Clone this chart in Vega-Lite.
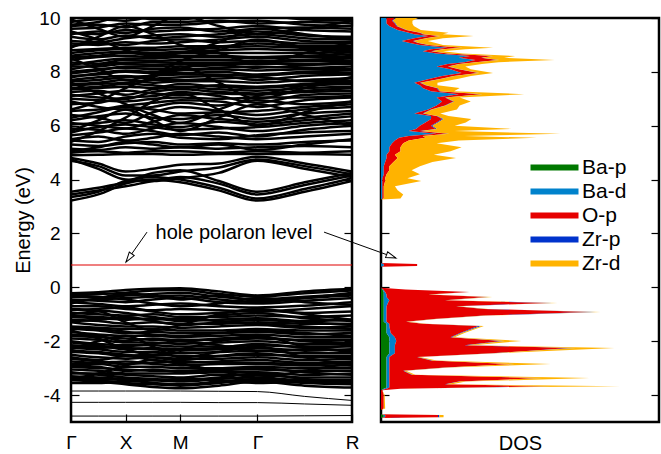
{
 "$schema": "https://vega.github.io/schema/vega-lite/v6.json",
 "padding": {"left": 12, "top": 7, "right": 0, "bottom": 0},
 "bounds": "flush",
 "spacing": 29,
 "config": {
  "font": "Liberation Sans",
  "view": {"stroke": "black", "strokeWidth": 2.5},
  "axis": {"domain": false, "grid": false, "tickColor": "black", "tickWidth": 1.2, "labelColor": "black", "titleColor": "black", "labelFont": "Liberation Sans", "titleFont": "Liberation Sans", "titleFontWeight": "normal", "labelFlush": false, "labelOverlap": false},
  "legend": {"labelFont": "Liberation Sans"}
 },
 "datasets": {
  "kpts": [
   {"kp": "G", "k": 0}, {"kp": "GX", "k": 0.5}, {"kp": "X", "k": 1}, {"kp": "XM", "k": 1.5}, {"kp": "M", "k": 2},
   {"kp": "MG", "k": 2.707}, {"kp": "G2", "k": 3.414}, {"kp": "GR", "k": 4.28}, {"kp": "R", "k": 5.146}
  ],
  "bands": [
   {"b": "v1", "G": -0.22, "GX": -0.18, "X": -0.10, "XM": -0.05, "M": -0.03, "MG": -0.15, "G2": -0.30, "GR": -0.15, "R": -0.05},
   {"b": "v2", "G": -0.28, "GX": -0.25, "X": -0.20, "XM": -0.12, "M": -0.10, "MG": -0.25, "G2": -0.35, "GR": -0.22, "R": -0.12},
   {"b": "v3", "G": -0.35, "GX": -0.38, "X": -0.30, "XM": -0.25, "M": -0.20, "MG": -0.35, "G2": -0.45, "GR": -0.35, "R": -0.25},
   {"b": "v4", "G": -0.45, "GX": -0.50, "X": -0.55, "XM": -0.45, "M": -0.40, "MG": -0.55, "G2": -0.60, "GR": -0.50, "R": -0.40},
   {"b": "v5", "G": -0.55, "GX": -0.62, "X": -0.70, "XM": -0.65, "M": -0.60, "MG": -0.70, "G2": -0.75, "GR": -0.68, "R": -0.55},
   {"b": "v6", "G": -0.70, "GX": -0.70, "X": -0.80, "XM": -0.85, "M": -0.80, "MG": -0.85, "G2": -0.90, "GR": -0.80, "R": -0.70},
   {"b": "v7", "G": -0.85, "GX": -0.80, "X": -0.75, "XM": -0.90, "M": -1.00, "MG": -0.95, "G2": -0.85, "GR": -0.95, "R": -0.90},
   {"b": "v8", "G": -0.95, "GX": -1.00, "X": -1.05, "XM": -1.00, "M": -1.10, "MG": -1.10, "G2": -1.05, "GR": -1.10, "R": -1.05},
   {"b": "v9", "G": -1.10, "GX": -1.15, "X": -1.20, "XM": -1.15, "M": -1.25, "MG": -1.20, "G2": -1.15, "GR": -1.25, "R": -1.20},
   {"b": "v10", "G": -1.20, "GX": -1.25, "X": -1.35, "XM": -1.30, "M": -1.35, "MG": -1.35, "G2": -1.30, "GR": -1.35, "R": -1.35},
   {"b": "v11", "G": -1.30, "GX": -1.40, "X": -1.45, "XM": -1.45, "M": -1.50, "MG": -1.45, "G2": -1.40, "GR": -1.50, "R": -1.45},
   {"b": "v12", "G": -1.45, "GX": -1.50, "X": -1.55, "XM": -1.55, "M": -1.60, "MG": -1.60, "G2": -1.55, "GR": -1.60, "R": -1.60},
   {"b": "v13", "G": -1.55, "GX": -1.60, "X": -1.70, "XM": -1.65, "M": -1.70, "MG": -1.70, "G2": -1.65, "GR": -1.75, "R": -1.70},
   {"b": "v14", "G": -1.65, "GX": -1.75, "X": -1.80, "XM": -1.80, "M": -1.85, "MG": -1.80, "G2": -1.75, "GR": -1.85, "R": -1.85},
   {"b": "v15", "G": -1.80, "GX": -1.85, "X": -1.90, "XM": -1.95, "M": -1.95, "MG": -1.95, "G2": -1.90, "GR": -1.95, "R": -1.95},
   {"b": "v16", "G": -1.90, "GX": -1.95, "X": -2.05, "XM": -2.05, "M": -2.10, "MG": -2.05, "G2": -2.00, "GR": -2.10, "R": -2.10},
   {"b": "v17", "G": -2.00, "GX": -2.10, "X": -2.15, "XM": -2.15, "M": -2.20, "MG": -2.20, "G2": -2.15, "GR": -2.20, "R": -2.20},
   {"b": "v18", "G": -2.15, "GX": -2.20, "X": -2.25, "XM": -2.30, "M": -2.35, "MG": -2.30, "G2": -2.25, "GR": -2.35, "R": -2.30},
   {"b": "v19", "G": -2.25, "GX": -2.30, "X": -2.40, "XM": -2.40, "M": -2.45, "MG": -2.40, "G2": -2.35, "GR": -2.45, "R": -2.45},
   {"b": "v20", "G": -2.40, "GX": -2.45, "X": -2.55, "XM": -2.50, "M": -2.55, "MG": -2.55, "G2": -2.50, "GR": -2.55, "R": -2.55},
   {"b": "v21", "G": -2.50, "GX": -2.60, "X": -2.65, "XM": -2.60, "M": -2.65, "MG": -2.65, "G2": -2.60, "GR": -2.70, "R": -2.65},
   {"b": "v22", "G": -2.60, "GX": -2.70, "X": -2.55, "XM": -2.70, "M": -2.80, "MG": -2.75, "G2": -2.70, "GR": -2.80, "R": -2.75},
   {"b": "v23", "G": -2.75, "GX": -2.80, "X": -2.75, "XM": -2.85, "M": -2.90, "MG": -2.85, "G2": -2.85, "GR": -2.90, "R": -2.90},
   {"b": "v24", "G": -2.85, "GX": -2.85, "X": -2.95, "XM": -2.95, "M": -3.00, "MG": -3.00, "G2": -2.95, "GR": -3.00, "R": -3.00},
   {"b": "v25", "G": -2.95, "GX": -3.00, "X": -3.05, "XM": -3.10, "M": -3.10, "MG": -3.05, "G2": -3.05, "GR": -3.10, "R": -3.10},
   {"b": "v26", "G": -3.05, "GX": -3.10, "X": -3.20, "XM": -3.20, "M": -3.20, "MG": -3.15, "G2": -3.15, "GR": -3.25, "R": -3.20},
   {"b": "v27", "G": -3.20, "GX": -3.20, "X": -3.25, "XM": -3.30, "M": -3.35, "MG": -3.25, "G2": -3.25, "GR": -3.35, "R": -3.35},
   {"b": "v28", "G": -3.30, "GX": -3.35, "X": -3.40, "XM": -3.45, "M": -3.50, "MG": -3.40, "G2": -3.35, "GR": -3.45, "R": -3.45},
   {"b": "v29", "G": -3.40, "GX": -3.45, "X": -3.55, "XM": -3.60, "M": -3.65, "MG": -3.55, "G2": -3.45, "GR": -3.55, "R": -3.60},
   {"b": "v30", "G": -3.45, "GX": -3.50, "X": -3.60, "XM": -3.70, "M": -3.75, "MG": -3.65, "G2": -3.50, "GR": -3.65, "R": -3.72},
   {"b": "v31", "G": -0.60, "GX": -0.40, "X": -0.25, "XM": -0.30, "M": -0.45, "MG": -0.30, "G2": -0.50, "GR": -0.40, "R": -0.20},
   {"b": "v32", "G": -1.00, "GX": -0.90, "X": -1.30, "XM": -1.60, "M": -1.40, "MG": -1.00, "G2": -0.80, "GR": -1.00, "R": -1.20},
   {"b": "v33", "G": -2.30, "GX": -2.00, "X": -1.80, "XM": -2.20, "M": -2.60, "MG": -2.40, "G2": -2.20, "GR": -2.60, "R": -2.90},
   {"b": "v34", "G": -3.40, "GX": -3.20, "X": -2.90, "XM": -2.70, "M": -2.85, "MG": -3.10, "G2": -3.35, "GR": -3.10, "R": -2.80},
   {"b": "v35", "G": -1.60, "GX": -1.90, "X": -2.30, "XM": -2.50, "M": -2.30, "MG": -2.00, "G2": -1.80, "GR": -2.20, "R": -2.40},
   {"b": "v36", "G": -0.50, "GX": -0.45, "X": -0.40, "XM": -0.35, "M": -0.30, "MG": -0.45, "G2": -0.55, "GR": -0.40, "R": -0.30},
   {"b": "v37", "G": -0.80, "GX": -0.85, "X": -0.95, "XM": -1.10, "M": -1.20, "MG": -1.05, "G2": -0.95, "GR": -1.15, "R": -1.25},
   {"b": "v38", "G": -1.25, "GX": -1.20, "X": -1.10, "XM": -1.25, "M": -1.40, "MG": -1.30, "G2": -1.20, "GR": -1.30, "R": -1.40},
   {"b": "v39", "G": -1.50, "GX": -1.55, "X": -1.65, "XM": -1.75, "M": -1.80, "MG": -1.70, "G2": -1.60, "GR": -1.70, "R": -1.80},
   {"b": "v40", "G": -1.75, "GX": -1.80, "X": -2.00, "XM": -1.90, "M": -2.00, "MG": -1.90, "G2": -1.85, "GR": -2.00, "R": -2.05},
   {"b": "v41", "G": -2.05, "GX": -2.15, "X": -2.30, "XM": -2.25, "M": -2.30, "MG": -2.25, "G2": -2.10, "GR": -2.25, "R": -2.35},
   {"b": "v42", "G": -2.35, "GX": -2.40, "X": -2.50, "XM": -2.60, "M": -2.70, "MG": -2.55, "G2": -2.45, "GR": -2.60, "R": -2.60},
   {"b": "v43", "G": -2.65, "GX": -2.75, "X": -2.85, "XM": -2.80, "M": -2.75, "MG": -2.80, "G2": -2.80, "GR": -2.85, "R": -2.80},
   {"b": "v44", "G": -2.90, "GX": -2.95, "X": -3.10, "XM": -3.05, "M": -3.15, "MG": -3.10, "G2": -3.00, "GR": -3.15, "R": -3.25},
   {"b": "v45", "G": -3.15, "GX": -3.25, "X": -3.35, "XM": -3.40, "M": -3.45, "MG": -3.35, "G2": -3.20, "GR": -3.40, "R": -3.50},
   {"b": "v46", "G": -3.35, "GX": -3.40, "X": -3.45, "XM": -3.55, "M": -3.60, "MG": -3.50, "G2": -3.40, "GR": -3.50, "R": -3.55},
   {"b": "v47", "G": -0.30, "GX": -0.35, "X": -0.45, "XM": -0.60, "M": -0.70, "MG": -0.60, "G2": -0.40, "GR": -0.55, "R": -0.65},
   {"b": "v48", "G": -1.05, "GX": -1.10, "X": -1.15, "XM": -1.20, "M": -1.15, "MG": -1.25, "G2": -1.35, "GR": -1.45, "R": -1.55},
   {"b": "v49", "G": -2.20, "GX": -2.25, "X": -2.20, "XM": -2.10, "M": -2.00, "MG": -2.15, "G2": -2.35, "GR": -2.30, "R": -2.15},
   {"b": "v50", "G": -3.55, "GX": -3.55, "X": -3.50, "XM": -3.45, "M": -3.40, "MG": -3.45, "G2": -3.55, "GR": -3.50, "R": -3.45},
   {"b": "c1", "G": 3.22, "GX": 3.45, "X": 3.85, "XM": 4.00, "M": 3.90, "MG": 3.60, "G2": 3.22, "GR": 3.55, "R": 3.95},
   {"b": "c2", "G": 3.35, "GX": 3.55, "X": 3.95, "XM": 4.10, "M": 4.00, "MG": 3.70, "G2": 3.30, "GR": 3.65, "R": 4.05},
   {"b": "c3", "G": 3.45, "GX": 3.60, "X": 3.75, "XM": 3.95, "M": 4.10, "MG": 3.85, "G2": 3.45, "GR": 3.80, "R": 4.15},
   {"b": "c4", "G": 3.55, "GX": 3.70, "X": 3.90, "XM": 4.25, "M": 4.35, "MG": 3.95, "G2": 3.55, "GR": 3.90, "R": 4.25},
   {"b": "c5", "G": 4.75, "GX": 4.40, "X": 4.00, "XM": 3.95, "M": 4.05, "MG": 4.25, "G2": 4.70, "GR": 4.40, "R": 4.10},
   {"b": "c6", "G": 4.70, "GX": 4.50, "X": 4.15, "XM": 4.15, "M": 4.30, "MG": 4.45, "G2": 4.75, "GR": 4.50, "R": 4.20},
   {"b": "c7", "G": 4.80, "GX": 4.60, "X": 4.30, "XM": 4.40, "M": 4.55, "MG": 4.60, "G2": 4.85, "GR": 4.60, "R": 4.30},
   {"b": "c8", "G": 4.90, "GX": 4.92, "X": 4.95, "XM": 4.95, "M": 4.92, "MG": 4.95, "G2": 4.95, "GR": 4.95, "R": 4.92},
   {"b": "c9", "G": 5.00, "GX": 5.05, "X": 5.00, "XM": 5.05, "M": 5.05, "MG": 5.00, "G2": 5.05, "GR": 5.00, "R": 5.05},
   {"b": "c10", "G": 5.15, "GX": 5.10, "X": 5.20, "XM": 5.15, "M": 5.20, "MG": 5.15, "G2": 5.20, "GR": 5.25, "R": 5.20},
   {"b": "c11", "G": 5.30, "GX": 5.25, "X": 5.35, "XM": 5.40, "M": 5.30, "MG": 5.35, "G2": 5.30, "GR": 5.40, "R": 5.45},
   {"b": "c12", "G": 5.50, "GX": 5.60, "X": 5.45, "XM": 5.55, "M": 5.70, "MG": 5.60, "G2": 5.50, "GR": 5.60, "R": 5.70},
   {"b": "c13", "G": 5.65, "GX": 5.75, "X": 5.90, "XM": 5.80, "M": 5.65, "MG": 5.75, "G2": 5.60, "GR": 5.85, "R": 6.00},
   {"b": "c14", "G": 5.90, "GX": 5.85, "X": 5.70, "XM": 5.90, "M": 6.10, "MG": 5.95, "G2": 5.80, "GR": 6.00, "R": 6.10},
   {"b": "c15", "G": 6.05, "GX": 6.10, "X": 6.20, "XM": 6.05, "M": 5.95, "MG": 6.15, "G2": 6.05, "GR": 6.20, "R": 6.35},
   {"b": "c16", "G": 6.20, "GX": 6.35, "X": 6.45, "XM": 6.30, "M": 6.25, "MG": 6.40, "G2": 6.25, "GR": 6.45, "R": 6.55},
   {"b": "c17", "G": 6.40, "GX": 6.30, "X": 6.10, "XM": 6.50, "M": 6.70, "MG": 6.55, "G2": 6.40, "GR": 6.60, "R": 6.70},
   {"b": "c18", "G": 6.90, "GX": 6.70, "X": 6.60, "XM": 6.70, "M": 6.85, "MG": 6.75, "G2": 6.95, "GR": 6.80, "R": 6.90},
   {"b": "c19", "G": 7.00, "GX": 6.95, "X": 6.90, "XM": 7.00, "M": 7.05, "MG": 7.00, "G2": 7.05, "GR": 7.05, "R": 7.10},
   {"b": "c20", "G": 7.10, "GX": 7.20, "X": 7.30, "XM": 7.20, "M": 7.15, "MG": 7.20, "G2": 7.15, "GR": 7.25, "R": 7.30},
   {"b": "c21", "G": 7.25, "GX": 7.30, "X": 7.15, "XM": 7.35, "M": 7.45, "MG": 7.35, "G2": 7.30, "GR": 7.40, "R": 7.45},
   {"b": "c22", "G": 7.40, "GX": 7.45, "X": 7.55, "XM": 7.50, "M": 7.40, "MG": 7.50, "G2": 7.45, "GR": 7.55, "R": 7.60},
   {"b": "c23", "G": 7.55, "GX": 7.60, "X": 7.70, "XM": 7.60, "M": 7.65, "MG": 7.65, "G2": 7.60, "GR": 7.70, "R": 7.75},
   {"b": "c24", "G": 7.70, "GX": 7.80, "X": 7.85, "XM": 7.75, "M": 7.80, "MG": 7.85, "G2": 7.70, "GR": 7.85, "R": 7.90},
   {"b": "c25", "G": 7.85, "GX": 7.90, "X": 8.00, "XM": 7.95, "M": 7.95, "MG": 8.00, "G2": 7.90, "GR": 8.00, "R": 8.05},
   {"b": "c26", "G": 8.00, "GX": 8.10, "X": 8.15, "XM": 8.10, "M": 8.10, "MG": 8.15, "G2": 8.20, "GR": 8.15, "R": 8.20},
   {"b": "c27", "G": 8.20, "GX": 8.20, "X": 8.30, "XM": 8.25, "M": 8.30, "MG": 8.30, "G2": 8.30, "GR": 8.30, "R": 8.35},
   {"b": "c28", "G": 8.35, "GX": 8.30, "X": 8.45, "XM": 8.40, "M": 8.45, "MG": 8.45, "G2": 8.40, "GR": 8.45, "R": 8.50},
   {"b": "c29", "G": 8.45, "GX": 8.55, "X": 8.60, "XM": 8.55, "M": 8.60, "MG": 8.60, "G2": 8.55, "GR": 8.60, "R": 8.65},
   {"b": "c30", "G": 8.60, "GX": 8.70, "X": 8.75, "XM": 8.70, "M": 8.75, "MG": 8.80, "G2": 8.85, "GR": 8.80, "R": 8.80},
   {"b": "c31", "G": 8.80, "GX": 8.85, "X": 8.90, "XM": 8.90, "M": 8.95, "MG": 8.95, "G2": 9.05, "GR": 8.95, "R": 8.95},
   {"b": "c32", "G": 9.05, "GX": 9.00, "X": 9.10, "XM": 9.05, "M": 9.10, "MG": 9.20, "G2": 9.30, "GR": 9.15, "R": 9.10},
   {"b": "c33", "G": 9.30, "GX": 9.20, "X": 9.35, "XM": 9.25, "M": 9.30, "MG": 9.40, "G2": 9.50, "GR": 9.35, "R": 9.30},
   {"b": "c34", "G": 9.45, "GX": 9.40, "X": 9.55, "XM": 9.50, "M": 9.55, "MG": 9.60, "G2": 9.70, "GR": 9.55, "R": 9.50},
   {"b": "c35", "G": 9.60, "GX": 9.65, "X": 9.80, "XM": 9.75, "M": 9.75, "MG": 9.85, "G2": 9.90, "GR": 9.75, "R": 9.70},
   {"b": "c36", "G": 9.75, "GX": 9.85, "X": 10.1, "XM": 9.95, "M": 9.95, "MG": 10.1, "G2": 10.1, "GR": 9.95, "R": 9.90},
   {"b": "c37", "G": 5.40, "GX": 5.80, "X": 6.30, "XM": 6.90, "M": 7.20, "MG": 6.60, "G2": 6.00, "GR": 6.50, "R": 6.90},
   {"b": "c38", "G": 7.60, "GX": 7.20, "X": 6.80, "XM": 6.40, "M": 6.10, "MG": 6.60, "G2": 7.10, "GR": 7.50, "R": 7.80},
   {"b": "c39", "G": 8.50, "GX": 8.10, "X": 7.70, "XM": 7.90, "M": 8.40, "MG": 8.80, "G2": 9.20, "GR": 8.90, "R": 8.60},
   {"b": "c40", "G": 9.50, "GX": 9.20, "X": 8.80, "XM": 8.60, "M": 8.70, "MG": 9.10, "G2": 9.60, "GR": 9.40, "R": 9.20},
   {"b": "c41", "G": 6.60, "GX": 6.90, "X": 7.40, "XM": 7.80, "M": 8.20, "MG": 7.60, "G2": 7.00, "GR": 7.40, "R": 7.80},
   {"b": "c42", "G": 9.95, "GX": 9.60, "X": 9.30, "XM": 9.70, "M": 10.1, "MG": 9.70, "G2": 9.40, "GR": 9.60, "R": 9.90},
   {"b": "c43", "G": 5.80, "GX": 6.20, "X": 6.60, "XM": 6.20, "M": 5.80, "MG": 6.30, "G2": 6.80, "GR": 6.40, "R": 6.00},
   {"b": "c44", "G": 8.90, "GX": 9.30, "X": 9.70, "XM": 9.40, "M": 9.00, "MG": 8.70, "G2": 8.30, "GR": 8.70, "R": 9.10},
   {"b": "c45", "G": 5.05, "GX": 5.20, "X": 5.40, "XM": 5.30, "M": 5.20, "MG": 5.30, "G2": 5.10, "GR": 5.30, "R": 5.50},
   {"b": "c46", "G": 5.45, "GX": 5.40, "X": 5.60, "XM": 5.70, "M": 5.55, "MG": 5.50, "G2": 5.65, "GR": 5.75, "R": 5.80},
   {"b": "c47", "G": 5.75, "GX": 5.95, "X": 6.05, "XM": 5.95, "M": 5.85, "MG": 5.90, "G2": 5.95, "GR": 6.10, "R": 6.20},
   {"b": "c48", "G": 6.10, "GX": 6.00, "X": 5.90, "XM": 6.15, "M": 6.40, "MG": 6.25, "G2": 6.15, "GR": 6.30, "R": 6.45},
   {"b": "c49", "G": 6.30, "GX": 6.50, "X": 6.70, "XM": 6.60, "M": 6.45, "MG": 6.50, "G2": 6.55, "GR": 6.70, "R": 6.80},
   {"b": "c50", "G": 6.55, "GX": 6.60, "X": 6.75, "XM": 6.85, "M": 6.95, "MG": 6.90, "G2": 6.70, "GR": 6.95, "R": 7.05},
   {"b": "c51", "G": 6.80, "GX": 6.85, "X": 7.05, "XM": 7.10, "M": 7.25, "MG": 7.10, "G2": 6.85, "GR": 7.15, "R": 7.20},
   {"b": "c52", "G": 7.15, "GX": 7.05, "X": 7.00, "XM": 7.25, "M": 7.35, "MG": 7.25, "G2": 7.20, "GR": 7.30, "R": 7.40},
   {"b": "c53", "G": 7.35, "GX": 7.40, "X": 7.45, "XM": 7.40, "M": 7.55, "MG": 7.45, "G2": 7.40, "GR": 7.50, "R": 7.55},
   {"b": "c54", "G": 7.50, "GX": 7.55, "X": 7.60, "XM": 7.70, "M": 7.70, "MG": 7.75, "G2": 7.80, "GR": 7.65, "R": 7.65},
   {"b": "c55", "G": 7.65, "GX": 7.70, "X": 7.80, "XM": 7.85, "M": 7.90, "MG": 7.90, "G2": 7.85, "GR": 7.95, "R": 7.95},
   {"b": "c56", "G": 7.80, "GX": 7.95, "X": 8.05, "XM": 8.00, "M": 8.05, "MG": 8.10, "G2": 8.05, "GR": 8.10, "R": 8.10},
   {"b": "c57", "G": 7.95, "GX": 8.05, "X": 8.20, "XM": 8.20, "M": 8.20, "MG": 8.25, "G2": 8.15, "GR": 8.25, "R": 8.30},
   {"b": "c58", "G": 8.10, "GX": 8.25, "X": 8.35, "XM": 8.35, "M": 8.35, "MG": 8.35, "G2": 8.35, "GR": 8.40, "R": 8.40},
   {"b": "c59", "G": 8.25, "GX": 8.40, "X": 8.50, "XM": 8.50, "M": 8.55, "MG": 8.55, "G2": 8.50, "GR": 8.55, "R": 8.55},
   {"b": "c60", "G": 8.55, "GX": 8.60, "X": 8.70, "XM": 8.65, "M": 8.70, "MG": 8.70, "G2": 8.70, "GR": 8.70, "R": 8.75},
   {"b": "c61", "G": 8.70, "GX": 8.80, "X": 8.85, "XM": 8.80, "M": 8.85, "MG": 8.90, "G2": 8.95, "GR": 8.90, "R": 8.90},
   {"b": "c62", "G": 8.95, "GX": 9.05, "X": 9.00, "XM": 9.15, "M": 9.20, "MG": 9.10, "G2": 9.15, "GR": 9.05, "R": 9.05},
   {"b": "c63", "G": 9.15, "GX": 9.10, "X": 9.25, "XM": 9.35, "M": 9.40, "MG": 9.30, "G2": 9.40, "GR": 9.25, "R": 9.20},
   {"b": "c64", "G": 9.40, "GX": 9.50, "X": 9.45, "XM": 9.60, "M": 9.65, "MG": 9.50, "G2": 9.60, "GR": 9.65, "R": 9.60},
   {"b": "c65", "G": 9.70, "GX": 9.75, "X": 9.65, "XM": 9.85, "M": 9.85, "MG": 9.90, "G2": 9.80, "GR": 9.85, "R": 9.80},
   {"b": "c66", "G": 9.85, "GX": 9.95, "X": 9.90, "XM": 10.05, "M": 10.1, "MG": 10.0, "G2": 10.05, "GR": 10.0, "R": 9.95}
  ],
  "lower": [
   {"b": "l1", "G": -3.85, "GX": -3.85, "X": -3.85, "XM": -3.85, "M": -3.85, "MG": -3.86, "G2": -3.87, "GR": -4.05, "R": -4.20},
   {"b": "l2", "G": -4.27, "GX": -4.27, "X": -4.27, "XM": -4.27, "M": -4.27, "MG": -4.28, "G2": -4.28, "GR": -4.33, "R": -4.38},
   {"b": "l3", "G": -4.78, "GX": -4.78, "X": -4.78, "XM": -4.78, "M": -4.78, "MG": -4.78, "G2": -4.78, "GR": -4.77, "R": -4.76}
  ],
  "polaron": [
   {"b": "h", "G": 0.83, "GX": 0.83, "X": 0.83, "XM": 0.83, "M": 0.83, "MG": 0.83, "G2": 0.83, "GR": 0.83, "R": 0.83}
  ],
  "arrows": [
   {"a": 1, "x": 1.392, "y": 2.05}, {"a": 1, "x": 1.007, "y": 0.94},
   {"a": 2, "x": 4.634, "y": 2.05}, {"a": 2, "x": 5.952, "y": 1.09}
  ],
  "head1": [{"x": 1.060, "y": 1.092}],
  "head2": [{"x": 5.866, "y": 1.151}],
  "label": [{"t": "hole polaron level", "x": 2.985, "y": 1.79}],
  "species": [
   {"sp": "Ba-p", "o": 1}, {"sp": "Ba-d", "o": 2}, {"sp": "O-p", "o": 3}, {"sp": "Zr-p", "o": 4}, {"sp": "Zr-d", "o": 5}
  ],
  "dos": [
   {"e": -5.0, "Ba-p": 0, "Ba-d": 0, "O-p": 0, "Zr-p": 0, "Zr-d": 0},
   {"e": -4.85, "Ba-p": 0, "Ba-d": 0, "O-p": 0, "Zr-p": 0, "Zr-d": 0},
   {"e": -4.82, "Ba-p": 1, "Ba-d": 0.5, "O-p": 19, "Zr-p": 0.5, "Zr-d": 1.5},
   {"e": -4.74, "Ba-p": 1, "Ba-d": 0.5, "O-p": 19, "Zr-p": 0.5, "Zr-d": 1.5},
   {"e": -4.71, "Ba-p": 0, "Ba-d": 0, "O-p": 0, "Zr-p": 0, "Zr-d": 0},
   {"e": -4.55, "Ba-p": 0, "Ba-d": 0, "O-p": 0, "Zr-p": 0, "Zr-d": 0},
   {"e": -4.5, "Ba-p": 0, "Ba-d": 0, "O-p": 1, "Zr-p": 0, "Zr-d": 0.5},
   {"e": -4.0, "Ba-p": 0, "Ba-d": 0, "O-p": 1, "Zr-p": 0, "Zr-d": 0.3},
   {"e": -3.82, "Ba-p": 0, "Ba-d": 0, "O-p": 0.5, "Zr-p": 0, "Zr-d": 0},
   {"e": -3.77, "Ba-p": 1, "Ba-d": 1, "O-p": 5, "Zr-p": 0, "Zr-d": 0},
   {"e": -3.72, "Ba-p": 2, "Ba-d": 1, "O-p": 30, "Zr-p": 1, "Zr-d": 2},
   {"e": -3.67, "Ba-p": 2, "Ba-d": 1, "O-p": 57, "Zr-p": 1, "Zr-d": 25},
   {"e": -3.60, "Ba-p": 2, "Ba-d": 1, "O-p": 20, "Zr-p": 0.5, "Zr-d": 2},
   {"e": -3.50, "Ba-p": 2, "Ba-d": 1, "O-p": 25, "Zr-p": 0.5, "Zr-d": 2},
   {"e": -3.37, "Ba-p": 2, "Ba-d": 1, "O-p": 54, "Zr-p": 1, "Zr-d": 17},
   {"e": -3.25, "Ba-p": 2, "Ba-d": 1, "O-p": 8, "Zr-p": 0.3, "Zr-d": 1},
   {"e": -3.10, "Ba-p": 2, "Ba-d": 1, "O-p": 5, "Zr-p": 0.3, "Zr-d": 0.7},
   {"e": -2.98, "Ba-p": 2, "Ba-d": 1, "O-p": 20, "Zr-p": 0.5, "Zr-d": 1},
   {"e": -2.85, "Ba-p": 2, "Ba-d": 1, "O-p": 44, "Zr-p": 1, "Zr-d": 13},
   {"e": -2.72, "Ba-p": 2, "Ba-d": 1, "O-p": 15, "Zr-p": 0.5, "Zr-d": 1.5},
   {"e": -2.59, "Ba-p": 2, "Ba-d": 1, "O-p": 10, "Zr-p": 0.3, "Zr-d": 0.7},
   {"e": -2.45, "Ba-p": 3, "Ba-d": 2, "O-p": 35, "Zr-p": 0.5, "Zr-d": 1},
   {"e": -2.25, "Ba-p": 3, "Ba-d": 2, "O-p": 63, "Zr-p": 2, "Zr-d": 14},
   {"e": -2.15, "Ba-p": 3, "Ba-d": 2, "O-p": 25, "Zr-p": 1, "Zr-d": 2},
   {"e": -1.99, "Ba-p": 3, "Ba-d": 2.5, "O-p": 38, "Zr-p": 1, "Zr-d": 6},
   {"e": -1.85, "Ba-p": 3, "Ba-d": 2, "O-p": 20, "Zr-p": 0.5, "Zr-d": 1},
   {"e": -1.70, "Ba-p": 2, "Ba-d": 1.5, "O-p": 25, "Zr-p": 0.5, "Zr-d": 1},
   {"e": -1.44, "Ba-p": 2, "Ba-d": 1, "O-p": 32, "Zr-p": 1, "Zr-d": 1},
   {"e": -1.35, "Ba-p": 2, "Ba-d": 1, "O-p": 12, "Zr-p": 0.3, "Zr-d": 1},
   {"e": -1.28, "Ba-p": 1, "Ba-d": 1, "O-p": 7, "Zr-p": 0.2, "Zr-d": 0.8},
   {"e": -1.18, "Ba-p": 1, "Ba-d": 1, "O-p": 17, "Zr-p": 0.3, "Zr-d": 0.7},
   {"e": -1.05, "Ba-p": 1, "Ba-d": 1, "O-p": 35, "Zr-p": 0.5, "Zr-d": 1},
   {"e": -0.92, "Ba-p": 1, "Ba-d": 1, "O-p": 73, "Zr-p": 2, "Zr-d": 2},
   {"e": -0.80, "Ba-p": 1, "Ba-d": 1, "O-p": 35, "Zr-p": 0.5, "Zr-d": 1},
   {"e": -0.70, "Ba-p": 1, "Ba-d": 1, "O-p": 25, "Zr-p": 0.3, "Zr-d": 0.7},
   {"e": -0.58, "Ba-p": 1, "Ba-d": 1.5, "O-p": 58, "Zr-p": 1, "Zr-d": 2},
   {"e": -0.48, "Ba-p": 1, "Ba-d": 2, "O-p": 20, "Zr-p": 0.3, "Zr-d": 0.7},
   {"e": -0.36, "Ba-p": 1, "Ba-d": 1, "O-p": 36, "Zr-p": 0.5, "Zr-d": 1.5},
   {"e": -0.27, "Ba-p": 1, "Ba-d": 1, "O-p": 15, "Zr-p": 0.2, "Zr-d": 0.8},
   {"e": -0.17, "Ba-p": 1, "Ba-d": 0.5, "O-p": 30, "Zr-p": 0.2, "Zr-d": 0.3},
   {"e": -0.08, "Ba-p": 0.5, "Ba-d": 0.3, "O-p": 8, "Zr-p": 0, "Zr-d": 0},
   {"e": -0.02, "Ba-p": 0, "Ba-d": 0, "O-p": 0, "Zr-p": 0, "Zr-d": 0},
   {"e": 0.76, "Ba-p": 0, "Ba-d": 0, "O-p": 0, "Zr-p": 0, "Zr-d": 0},
   {"e": 0.79, "Ba-p": 0, "Ba-d": 1, "O-p": 12, "Zr-p": 0, "Zr-d": 0},
   {"e": 0.87, "Ba-p": 0, "Ba-d": 1, "O-p": 12, "Zr-p": 0, "Zr-d": 0},
   {"e": 0.90, "Ba-p": 0, "Ba-d": 0, "O-p": 0, "Zr-p": 0, "Zr-d": 0},
   {"e": 3.26, "Ba-p": 0, "Ba-d": 0, "O-p": 0, "Zr-p": 0, "Zr-d": 0},
   {"e": 3.30, "Ba-p": 0, "Ba-d": 0.5, "O-p": 0.5, "Zr-p": 0, "Zr-d": 6},
   {"e": 3.45, "Ba-p": 0, "Ba-d": 0.5, "O-p": 0.5, "Zr-p": 0, "Zr-d": 7},
   {"e": 3.60, "Ba-p": 0, "Ba-d": 0.5, "O-p": 0.5, "Zr-p": 0, "Zr-d": 5},
   {"e": 3.75, "Ba-p": 0, "Ba-d": 0.5, "O-p": 0.5, "Zr-p": 0, "Zr-d": 4},
   {"e": 3.95, "Ba-p": 0, "Ba-d": 0.5, "O-p": 1, "Zr-p": 0, "Zr-d": 13},
   {"e": 4.05, "Ba-p": 0, "Ba-d": 0.5, "O-p": 1, "Zr-p": 0, "Zr-d": 8},
   {"e": 4.20, "Ba-p": 0, "Ba-d": 1, "O-p": 1, "Zr-p": 0, "Zr-d": 12},
   {"e": 4.35, "Ba-p": 0, "Ba-d": 1, "O-p": 2, "Zr-p": 0, "Zr-d": 8},
   {"e": 4.50, "Ba-p": 0, "Ba-d": 1, "O-p": 2, "Zr-p": 0, "Zr-d": 11},
   {"e": 4.65, "Ba-p": 0, "Ba-d": 1.5, "O-p": 3, "Zr-p": 0, "Zr-d": 14},
   {"e": 4.80, "Ba-p": 0, "Ba-d": 2, "O-p": 4, "Zr-p": 0, "Zr-d": 21},
   {"e": 4.92, "Ba-p": 0, "Ba-d": 2, "O-p": 3, "Zr-p": 0, "Zr-d": 14},
   {"e": 5.05, "Ba-p": 0, "Ba-d": 3, "O-p": 4, "Zr-p": 0, "Zr-d": 18},
   {"e": 5.20, "Ba-p": 0, "Ba-d": 3, "O-p": 4, "Zr-p": 0, "Zr-d": 22},
   {"e": 5.35, "Ba-p": 0, "Ba-d": 4, "O-p": 4, "Zr-p": 0, "Zr-d": 12},
   {"e": 5.45, "Ba-p": 0, "Ba-d": 5, "O-p": 5, "Zr-p": 0, "Zr-d": 18},
   {"e": 5.55, "Ba-p": 0, "Ba-d": 6.5, "O-p": 9.5, "Zr-p": 0, "Zr-d": 40},
   {"e": 5.62, "Ba-p": 0, "Ba-d": 10, "O-p": 5, "Zr-p": 0, "Zr-d": 15},
   {"e": 5.70, "Ba-p": 0, "Ba-d": 20, "O-p": 4, "Zr-p": 0.5, "Zr-d": 40},
   {"e": 5.80, "Ba-p": 0, "Ba-d": 10, "O-p": 4, "Zr-p": 0.5, "Zr-d": 12},
   {"e": 5.88, "Ba-p": 0, "Ba-d": 12.6, "O-p": 7, "Zr-p": 0.5, "Zr-d": 27},
   {"e": 6.00, "Ba-p": 0, "Ba-d": 14, "O-p": 4, "Zr-p": 0.5, "Zr-d": 8},
   {"e": 6.12, "Ba-p": 0, "Ba-d": 16, "O-p": 4, "Zr-p": 0.5, "Zr-d": 10},
   {"e": 6.25, "Ba-p": 0, "Ba-d": 18, "O-p": 4, "Zr-p": 0.5, "Zr-d": 10},
   {"e": 6.36, "Ba-p": 0, "Ba-d": 18, "O-p": 2, "Zr-p": 0.3, "Zr-d": 4},
   {"e": 6.45, "Ba-p": 0, "Ba-d": 12, "O-p": 3, "Zr-p": 0.3, "Zr-d": 6},
   {"e": 6.60, "Ba-p": 0, "Ba-d": 17, "O-p": 1, "Zr-p": 0.3, "Zr-d": 9},
   {"e": 6.75, "Ba-p": 0, "Ba-d": 20, "O-p": 3, "Zr-p": 0.3, "Zr-d": 5},
   {"e": 6.90, "Ba-p": 0, "Ba-d": 22, "O-p": 4, "Zr-p": 0.3, "Zr-d": 6},
   {"e": 7.05, "Ba-p": 0, "Ba-d": 20, "O-p": 3, "Zr-p": 0.3, "Zr-d": 5},
   {"e": 7.17, "Ba-p": 0, "Ba-d": 28, "O-p": 8, "Zr-p": 0.5, "Zr-d": 15},
   {"e": 7.28, "Ba-p": 0, "Ba-d": 18, "O-p": 3, "Zr-p": 0.3, "Zr-d": 5},
   {"e": 7.40, "Ba-p": 0, "Ba-d": 15, "O-p": 5, "Zr-p": 0.3, "Zr-d": 8},
   {"e": 7.50, "Ba-p": 0, "Ba-d": 14, "O-p": 2, "Zr-p": 0.3, "Zr-d": 4},
   {"e": 7.60, "Ba-p": 0, "Ba-d": 12, "O-p": 2, "Zr-p": 0.3, "Zr-d": 6},
   {"e": 7.75, "Ba-p": 0, "Ba-d": 18, "O-p": 4, "Zr-p": 0.3, "Zr-d": 6},
   {"e": 7.85, "Ba-p": 0, "Ba-d": 22, "O-p": 4, "Zr-p": 0.3, "Zr-d": 6},
   {"e": 7.96, "Ba-p": 0, "Ba-d": 29, "O-p": 6, "Zr-p": 0.3, "Zr-d": 5},
   {"e": 8.10, "Ba-p": 0, "Ba-d": 25, "O-p": 3, "Zr-p": 0.3, "Zr-d": 4},
   {"e": 8.20, "Ba-p": 0, "Ba-d": 20, "O-p": 4, "Zr-p": 0.3, "Zr-d": 6},
   {"e": 8.29, "Ba-p": 0, "Ba-d": 24, "O-p": 4, "Zr-p": 0.3, "Zr-d": 8},
   {"e": 8.36, "Ba-p": 0, "Ba-d": 30, "O-p": 4, "Zr-p": 0.3, "Zr-d": 8},
   {"e": 8.44, "Ba-p": 0, "Ba-d": 34, "O-p": 8, "Zr-p": 0.5, "Zr-d": 20},
   {"e": 8.52, "Ba-p": 0, "Ba-d": 28, "O-p": 8, "Zr-p": 0.3, "Zr-d": 8},
   {"e": 8.59, "Ba-p": 0, "Ba-d": 32, "O-p": 8, "Zr-p": 0.3, "Zr-d": 8},
   {"e": 8.68, "Ba-p": 0, "Ba-d": 20, "O-p": 4, "Zr-p": 0.3, "Zr-d": 5},
   {"e": 8.77, "Ba-p": 0, "Ba-d": 15, "O-p": 3, "Zr-p": 0.3, "Zr-d": 4},
   {"e": 8.84, "Ba-p": 0, "Ba-d": 18, "O-p": 4, "Zr-p": 0.3, "Zr-d": 8},
   {"e": 8.90, "Ba-p": 0, "Ba-d": 24, "O-p": 5, "Zr-p": 0.3, "Zr-d": 11},
   {"e": 9.00, "Ba-p": 0, "Ba-d": 14, "O-p": 3, "Zr-p": 0.3, "Zr-d": 5},
   {"e": 9.08, "Ba-p": 0, "Ba-d": 10, "O-p": 3, "Zr-p": 0.3, "Zr-d": 6},
   {"e": 9.15, "Ba-p": 0, "Ba-d": 7.5, "O-p": 4, "Zr-p": 0.3, "Zr-d": 5},
   {"e": 9.25, "Ba-p": 0, "Ba-d": 12, "O-p": 4, "Zr-p": 0.3, "Zr-d": 6},
   {"e": 9.33, "Ba-p": 0, "Ba-d": 17, "O-p": 4, "Zr-p": 0.3, "Zr-d": 12},
   {"e": 9.40, "Ba-p": 0, "Ba-d": 12, "O-p": 3, "Zr-p": 0.3, "Zr-d": 7},
   {"e": 9.45, "Ba-p": 0, "Ba-d": 10, "O-p": 4, "Zr-p": 0.3, "Zr-d": 10},
   {"e": 9.55, "Ba-p": 0, "Ba-d": 6, "O-p": 3, "Zr-p": 0.3, "Zr-d": 5},
   {"e": 9.70, "Ba-p": 0, "Ba-d": 3, "O-p": 2.5, "Zr-p": 0.3, "Zr-d": 6},
   {"e": 9.80, "Ba-p": 0, "Ba-d": 2, "O-p": 3, "Zr-p": 0.3, "Zr-d": 6},
   {"e": 9.90, "Ba-p": 0, "Ba-d": 2, "O-p": 2, "Zr-p": 0.3, "Zr-d": 7},
   {"e": 10.0, "Ba-p": 0, "Ba-d": 2, "O-p": 3, "Zr-p": 0.3, "Zr-d": 8}
  ]
 },
 "hconcat": [
  {
   "width": 281,
   "height": 404,
   "layer": [
    {
     "data": {"name": "bands"},
     "transform": [
      {"fold": ["G", "GX", "X", "XM", "M", "MG", "G2", "GR", "R"], "as": ["kp", "v"]},
      {"lookup": "kp", "from": {"data": {"name": "kpts"}, "key": "kp", "fields": ["k"]}}
     ],
     "mark": {"type": "line", "color": "black", "strokeWidth": 2.5, "clip": true, "interpolate": "monotone"},
     "encoding": {
      "x": {"field": "k", "type": "quantitative", "scale": {"domain": [0, 5.146], "nice": false, "zero": false},
            "axis": {"orient": "bottom", "title": null, "values": [0, 1, 2, 3.414, 5.146], "tickSize": -8, "labelPadding": 19, "labelFontSize": 19,
                     "labelExpr": "datum.value < 0.5 ? 'Γ' : datum.value < 1.5 ? 'X' : datum.value < 2.5 ? 'M' : datum.value < 4 ? 'Γ' : 'R'"}},
      "y": {"field": "v", "type": "quantitative", "scale": {"domain": [-5, 10], "nice": false, "zero": false},
            "axis": {"orient": "left", "title": "Energy (eV)", "titleFontSize": 20, "titlePadding": 5, "values": [-4, -2, 0, 2, 4, 6, 8, 10], "tickSize": -8, "labelPadding": 19, "labelFontSize": 19, "labelExpr": "'' + datum.value"}},
      "detail": {"field": "b"}
     }
    },
    {
     "data": {"name": "lower"},
     "transform": [
      {"fold": ["G", "GX", "X", "XM", "M", "MG", "G2", "GR", "R"], "as": ["kp", "v"]},
      {"lookup": "kp", "from": {"data": {"name": "kpts"}, "key": "kp", "fields": ["k"]}}
     ],
     "mark": {"type": "line", "color": "black", "strokeWidth": 1, "clip": true, "interpolate": "monotone"},
     "encoding": {
      "x": {"field": "k", "type": "quantitative", "axis": {"orient": "top", "title": null, "labels": false, "values": [0, 1, 2, 3.414, 5.146], "tickSize": -8}},
      "y": {"field": "v", "type": "quantitative", "axis": {"orient": "right", "title": null, "labels": false, "values": [-4, -2, 0, 2, 4, 6, 8, 10], "tickSize": -8}},
      "detail": {"field": "b"}
     }
    },
    {
     "data": {"name": "polaron"},
     "transform": [
      {"fold": ["G", "GX", "X", "XM", "M", "MG", "G2", "GR", "R"], "as": ["kp", "v"]},
      {"lookup": "kp", "from": {"data": {"name": "kpts"}, "key": "kp", "fields": ["k"]}}
     ],
     "mark": {"type": "line", "color": "#e00000", "strokeWidth": 1.2, "clip": true},
     "encoding": {
      "x": {"field": "k", "type": "quantitative", "axis": null},
      "y": {"field": "v", "type": "quantitative", "axis": null},
      "detail": {"field": "b"}
     }
    },
    {
     "data": {"name": "arrows"},
     "mark": {"type": "line", "color": "black", "strokeWidth": 1, "clip": false},
     "encoding": {
      "x": {"field": "x", "type": "quantitative", "axis": null},
      "y": {"field": "y", "type": "quantitative", "axis": null},
      "detail": {"field": "a"}
     }
    },
    {
     "data": {"name": "head1"},
     "mark": {"type": "point", "shape": "M0,-1L0.6,1L-0.6,1Z", "size": 100, "filled": true, "fill": "white", "stroke": "black", "strokeWidth": 1, "opacity": 1, "angle": 215, "clip": false},
     "encoding": {
      "x": {"field": "x", "type": "quantitative", "axis": null},
      "y": {"field": "y", "type": "quantitative", "axis": null}
     }
    },
    {
     "data": {"name": "head2"},
     "mark": {"type": "point", "shape": "M0,-1L0.6,1L-0.6,1Z", "size": 100, "filled": true, "fill": "white", "stroke": "black", "strokeWidth": 1, "opacity": 1, "angle": 110, "clip": false},
     "encoding": {
      "x": {"field": "x", "type": "quantitative", "axis": null},
      "y": {"field": "y", "type": "quantitative", "axis": null}
     }
    },
    {
     "data": {"name": "label"},
     "mark": {"type": "text", "fontSize": 20, "font": "Liberation Sans", "align": "center", "baseline": "alphabetic", "color": "black", "clip": false},
     "encoding": {
      "x": {"field": "x", "type": "quantitative", "axis": null},
      "y": {"field": "y", "type": "quantitative", "axis": null},
      "text": {"field": "t"}
     }
    }
   ],
   "resolve": {"axis": {"x": "independent", "y": "independent"}}
  },
  {
   "width": 278,
   "height": 404,
   "layer": [
    {
     "data": {"name": "dos"},
     "transform": [
      {"fold": ["Ba-p", "Ba-d", "O-p", "Zr-p", "Zr-d"], "as": ["sp", "d"]},
      {"lookup": "sp", "from": {"data": {"name": "species"}, "key": "sp", "fields": ["o"]}}
     ],
     "mark": {"type": "area", "orient": "horizontal", "clip": true},
     "encoding": {
      "y": {"field": "e", "type": "quantitative", "scale": {"domain": [-5, 10], "nice": false, "zero": false},
            "axis": {"orient": "left", "title": null, "labels": false, "values": [-4, -2, 0, 2, 4, 6, 8, 10], "tickSize": -8}},
      "x": {"field": "d", "type": "quantitative", "stack": "zero", "scale": {"domain": [0, 100], "nice": false},
            "axis": {"orient": "bottom", "title": "DOS", "titleFontSize": 20, "titlePadding": 11, "labels": false, "ticks": false}},
      "color": {"field": "sp", "type": "nominal",
                "scale": {"domain": ["Ba-p", "Ba-d", "O-p", "Zr-p", "Zr-d"], "range": ["#007800", "#0082cc", "#e60000", "#0033cc", "#ffb300"]},
                "legend": {"orient": "none", "legendX": 473, "legendY": 139, "title": null, "padding": 0,
                           "symbolType": "M-4,-0.5H4V0.5H-4Z", "symbolSize": 144, "symbolStrokeWidth": 0,
                           "labelFontSize": 21, "labelOffset": 17, "rowPadding": 2, "labelColor": "black"}},
      "order": {"field": "o", "type": "quantitative"}
     }
    },
    {
     "data": {"values": [{"e": 0}]},
     "mark": {"type": "tick", "opacity": 0},
     "encoding": {
      "y": {"field": "e", "type": "quantitative",
            "axis": {"orient": "right", "title": null, "labels": false, "values": [-4, -2, 0, 2, 4, 6, 8, 10], "tickSize": -8}}
     }
    }
   ],
   "resolve": {"axis": {"y": "independent"}}
  }
 ]
}
